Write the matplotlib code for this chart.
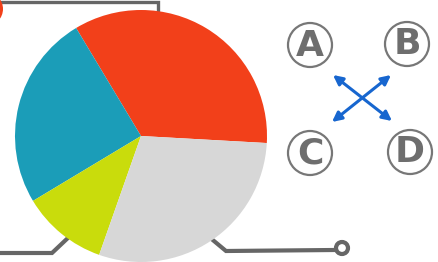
import matplotlib.pyplot as plt
from matplotlib.patches import Circle

# --- Data ---
slice_names = ["Red", "Teal", "Yellow", "Gray"]
slice_values = [34.5, 25.0, 11.0, 29.5]
slice_colors = ["#F2401A", "#1B9DB8", "#C9DC0C", "#D7D7D7"]

letters = ["A", "B", "C", "D"]

W, H = 439, 262

fig = plt.figure(figsize=(W / 100, H / 100), dpi=100)
ax = fig.add_axes([0, 0, 1, 1])

line_col = "#666666"

# pie (pixel coords, y flipped so y goes up)
cx, cy, r = 141, H - 136, 126
ax.pie(slice_values, colors=slice_colors, startangle=-3.2, counterclock=True,
       center=(cx, cy), radius=r, wedgeprops=dict(linewidth=0, zorder=2))

# connector lines behind the pie
ax.plot([0, 158, 158], [H - 1.5, H - 1.5, H - 14], color=line_col, lw=2.4,
        solid_joinstyle="miter", zorder=1)
ax.plot([0, 52, 70], [H - 253, H - 253, H - 236], color=line_col, lw=3,
        solid_joinstyle="miter", zorder=1)
ax.plot([208, 226, 334], [H - 236, H - 251, H - 250], color=line_col, lw=3,
        solid_joinstyle="miter", zorder=1)
ax.add_patch(Circle((342, H - 248), 6, facecolor="white", edgecolor=line_col,
                    lw=3, zorder=3))

# small red piece at top-left corner
ax.add_patch(Circle((-14, H - 9), 17, facecolor="#F2401A", lw=0, zorder=1))

# letter badges
badge_pos = [(310, 45), (407, 44), (310, 153), (410, 152)]
for (bx, by), letter in zip(badge_pos, letters):
    ax.add_patch(Circle((bx, H - by), 22, facecolor="white", edgecolor="#777777",
                        lw=1.6, zorder=3))
    ax.text(bx, H - by - 0.5, letter, ha="center", va="center", fontsize=26,
            fontweight="heavy", color="#6E6E6E", zorder=4)

# blue crossed arrows
arrow_kw = dict(arrowstyle="<|-|>", color="#1766CF", lw=2.2,
                mutation_scale=14, shrinkA=0, shrinkB=0)
ax.annotate("", xy=(392, H - 121), xytext=(333, H - 75), arrowprops=arrow_kw)
ax.annotate("", xy=(391, H - 75), xytext=(332, H - 122), arrowprops=arrow_kw)

ax.set_xlim(0, W)
ax.set_ylim(0, H)
ax.set_aspect("auto")
ax.axis("off")

fig.savefig("out.png", dpi=100, facecolor="white")
